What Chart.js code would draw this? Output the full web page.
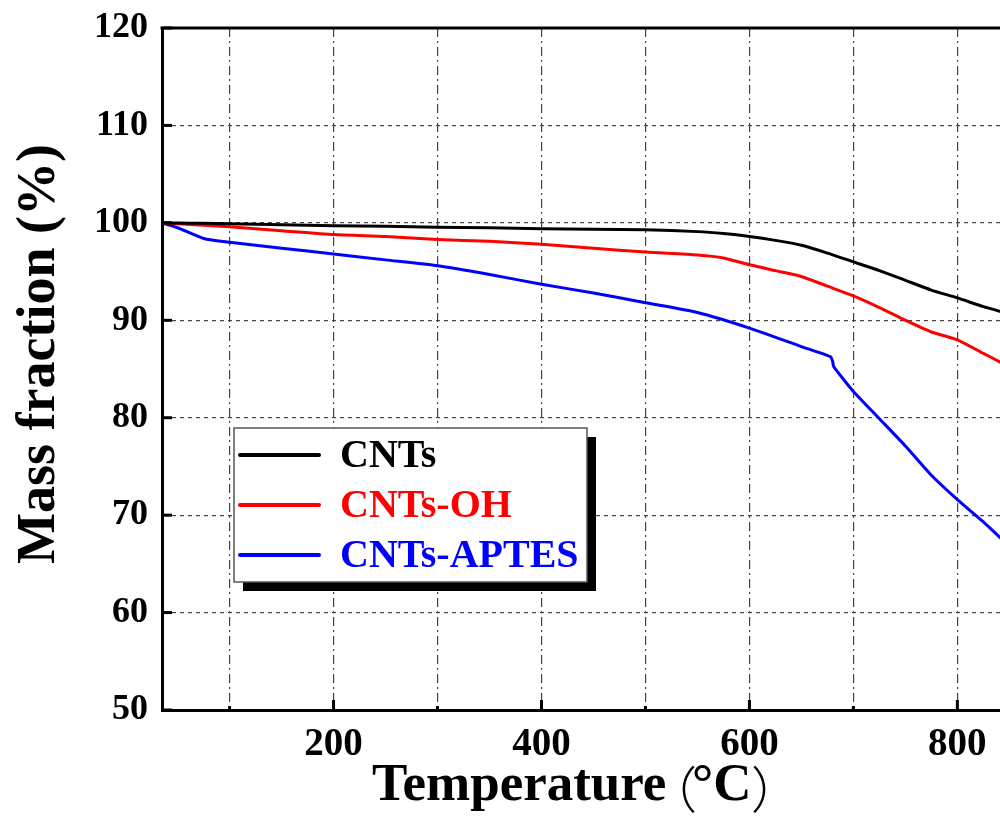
<!DOCTYPE html>
<html>
<head>
<meta charset="utf-8">
<title>TGA curves</title>
<script src="https://cdn.jsdelivr.net/npm/chart.js@4/dist/chart.umd.min.js"></script>
<style>
  html, body { margin: 0; padding: 0; background: #fff; overflow: hidden; }
  #wrap { width: 1000px; height: 818px; }
</style>
</head>
<body>
<div id="wrap"><canvas id="tga"></canvas></div>
<script>
// Temperature (°C) sample points
const temps = [35, 50, 75, 100, 150, 200, 250, 300, 350, 400, 450, 500, 550, 575, 600, 625, 650, 675, 700, 725, 750, 775, 800, 825, 845];
const massCNTs = [100, 99.98, 99.95, 99.9, 99.8, 99.7, 99.65, 99.55, 99.5, 99.4, 99.35, 99.3, 99.1, 98.9, 98.6, 98.2, 97.7, 96.9, 96.0, 95.1, 94.1, 93.1, 92.3, 91.4, 90.8];
const massOH = [100, 99.9, 99.75, 99.6, 99.2, 98.8, 98.6, 98.3, 98.1, 97.8, 97.4, 97.0, 96.7, 96.4, 95.7, 95.1, 94.5, 93.5, 92.5, 91.3, 90.0, 88.8, 88.0, 86.6, 85.5];

// the APTES curve has a small step near 680 °C, so it keeps its own x values
const tempsAPTES = [35, 50, 75, 100, 150, 200, 250, 300, 350, 400, 450, 500, 550, 600, 650, 678, 680, 681, 690, 700, 725, 750, 775, 800, 825, 845];
const massAPTES = [100, 99.5, 98.4, 98.0, 97.4, 96.8, 96.2, 95.6, 94.7, 93.7, 92.8, 91.8, 90.8, 89.2, 87.3, 86.25, 85.8, 85.25, 84.0, 82.7, 79.9, 77.1, 74.1, 71.6, 69.3, 67.3];

const seriesNames = ['CNTs', 'CNTs-OH', 'CNTs-APTES'];
const seriesColors = ['#000000', '#ff0000', '#0000ff'];

const xTicks = [100, 200, 300, 400, 500, 600, 700, 800];
const xLabelled = [200, 400, 600, 800];
const yTicks = [50, 60, 70, 80, 90, 100, 110, 120];

// x title is drawn in pieces so the thin full-width brackets sit like the original
const xTitleParts = ['Temperature', '（', '°C', '）'];
const xTitleInk = [372, 682, 694, 753];
const yTitle = 'Mass fraction (%)';

const SERIF = '"Liberation Serif", "Times New Roman", "Noto Sans CJK SC", serif';
const CJK = '"Noto Sans CJK SC", sans-serif';

function pairs(xs, ys) {
  return xs.map((x, i) => ({ x, y: ys[i] }));
}

// top frame line, inward tick marks and axis titles
const frame = {
  id: 'frame',
  afterDraw(chart) {
    const { ctx, chartArea: a, scales } = chart;
    ctx.save();
    ctx.strokeStyle = '#000';
    ctx.lineWidth = 3;
    ctx.beginPath();
    ctx.moveTo(a.left - 1.5, a.top);
    ctx.lineTo(a.right, a.top);
    ctx.stroke();

    xTicks.forEach((v) => {
      const px = scales.x.getPixelForValue(v);
      const len = xLabelled.includes(v) ? 10 : 4;
      ctx.beginPath();
      ctx.moveTo(px, a.bottom);
      ctx.lineTo(px, a.bottom - len);
      ctx.stroke();
    });
    yTicks.forEach((v) => {
      const py = scales.y.getPixelForValue(v);
      ctx.beginPath();
      ctx.moveTo(a.left, py);
      ctx.lineTo(a.left + 10, py);
      ctx.stroke();
    });

    ctx.fillStyle = '#000';
    ctx.textBaseline = 'alphabetic';
    ctx.textAlign = 'left';
    xTitleParts.forEach((part, i) => {
      const bracket = part === '（' || part === '）';
      ctx.font = bracket ? '300 50px ' + CJK : 'bold 53px ' + SERIF;
      const m = ctx.measureText(part);
      ctx.fillText(part, xTitleInk[i] + m.actualBoundingBoxLeft, bracket ? 808 : 800);
    });

    ctx.textAlign = 'center';
    ctx.font = 'bold 54px ' + SERIF;
    ctx.translate(54, 354);
    ctx.rotate(-Math.PI / 2);
    ctx.fillText(yTitle, 0, 0);
    ctx.restore();
  },
};

// boxed legend with a drop shadow
const boxLegend = {
  id: 'boxLegend',
  afterDraw(chart) {
    const { ctx } = chart;
    const x = 234, y = 428, w = 353, h = 154;
    ctx.save();
    ctx.fillStyle = '#000';
    ctx.fillRect(x + 9, y + 9, w, h);
    ctx.fillStyle = '#fff';
    ctx.fillRect(x, y, w, h);
    ctx.strokeStyle = '#555';
    ctx.lineWidth = 1.5;
    ctx.strokeRect(x, y, w, h);

    ctx.font = 'bold 40px ' + SERIF;
    ctx.textBaseline = 'middle';
    ctx.textAlign = 'left';
    ctx.lineCap = 'round';
    chart.data.datasets.forEach((ds, i) => {
      const ly = 455 + i * 50;
      ctx.strokeStyle = ds.borderColor;
      ctx.lineWidth = 4;
      ctx.beginPath();
      ctx.moveTo(240, ly);
      ctx.lineTo(319, ly);
      ctx.stroke();
      ctx.fillStyle = ds.borderColor;
      ctx.fillText(ds.label, 340, ly + 2);
    });
    ctx.restore();
  },
};

new Chart(document.getElementById('tga'), {
  type: 'line',
  data: {
    datasets: [
      { label: seriesNames[0], data: pairs(temps, massCNTs), borderColor: seriesColors[0] },
      { label: seriesNames[1], data: pairs(temps, massOH), borderColor: seriesColors[1] },
      { label: seriesNames[2], data: pairs(tempsAPTES, massAPTES), borderColor: seriesColors[2] },
    ],
  },
  options: {
    responsive: true,
    maintainAspectRatio: false,
    animation: false,
    layout: { padding: { top: 28, right: 0, left: 0, bottom: 0 } },
    elements: {
      line: { borderWidth: 3, tension: 0.2, fill: false },
      point: { radius: 0 },
    },
    plugins: {
      legend: { display: false },
      tooltip: { enabled: false },
    },
    scales: {
      x: {
        type: 'linear',
        min: 35,
        max: 841,
        afterBuildTicks: (scale) => { scale.ticks = xTicks.map((v) => ({ value: v })); },
        afterFit: (scale) => {
          scale.height = 108;
          scale.paddingLeft = 0;
          scale.paddingRight = 0;
        },
        grid: { color: '#444', lineWidth: 1.2, drawTicks: false },
        border: { display: true, color: '#000', width: 3, dash: [9, 4, 2, 4] },
        ticks: {
          padding: 12,
          maxRotation: 0,
          autoSkip: false,
          color: '#000',
          font: { family: SERIF, weight: 'bold', size: 39 },
          callback: (v) => (xLabelled.includes(v) ? String(v) : ''),
        },
      },
      y: {
        min: 50,
        max: 120,
        afterBuildTicks: (scale) => { scale.ticks = yTicks.map((v) => ({ value: v })); },
        afterFit: (scale) => {
          scale.width = 162;
          scale.paddingTop = 0;
          scale.paddingBottom = 0;
        },
        grid: { color: '#444', lineWidth: 1.2, drawTicks: false },
        border: { display: true, color: '#000', width: 3, dash: [4, 4] },
        ticks: {
          padding: 14,
          color: '#000',
          font: { family: SERIF, weight: 'bold', size: 36 },
        },
      },
    },
  },
  plugins: [frame, boxLegend],
});
</script>
</body>
</html>
